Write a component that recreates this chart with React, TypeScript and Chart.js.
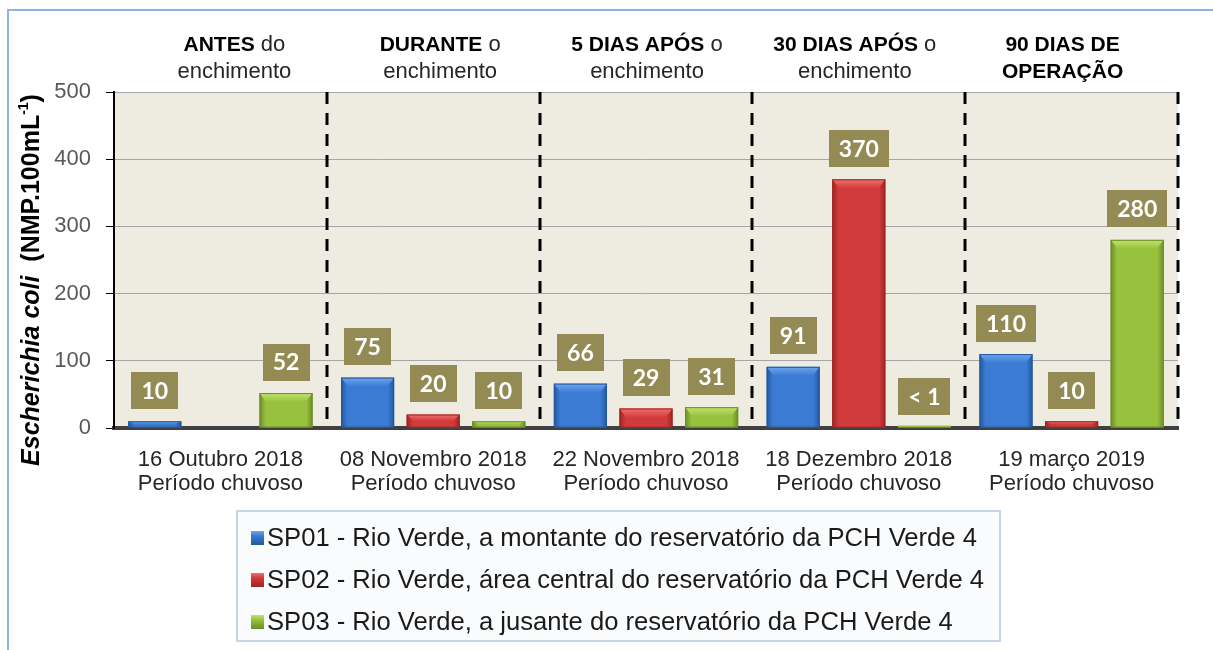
import { useEffect, useRef } from "react";
import { Chart, registerables } from "chart.js";

Chart.register(...registerables);

// ---------- data ----------
const categories: string[][] = [
  ["16 Outubro 2018", "Período chuvoso"],
  ["08 Novembro 2018", "Período chuvoso"],
  ["22 Novembro 2018", "Período chuvoso"],
  ["18 Dezembro 2018", "Período chuvoso"],
  ["19 março 2019", "Período chuvoso"],
];
const seriesNames = [
  "SP01 - Rio Verde, a montante do reservatório da PCH Verde 4",
  "SP02 - Rio Verde, área central do reservatório da PCH Verde 4",
  "SP03 - Rio Verde, a jusante do reservatório da PCH Verde 4",
];
const sp01: (number | null)[] = [10, 75, 66, 91, 110];
const sp02: (number | null)[] = [null, 20, 29, 370, 10];
const sp03: (number | null)[] = [52, 10, 31, 0.5, 280];
const yMin = 0;
const yMax = 500;
const yStep = 100;

const headerBold = ["ANTES", "DURANTE", "5 DIAS APÓS", "30 DIAS APÓS", "90 DIAS DE"];
const headerRest = [" do", " o", " o", " o", ""];
const headerLine2 = ["enchimento", "enchimento", "enchimento", "enchimento", "OPERAÇÃO"];
const headerLine2Bold = [false, false, false, false, true];

// ---------- style ----------
const FONT = '"Liberation Sans", Arial, sans-serif';
const LABEL_FONT = 'Lato, "Liberation Sans", sans-serif';
const headerDx = [14, 7, 1, -4, -9];
const seriesColors = [
  { main: "#3B7BD4", light: "#6FA6EE", dark: "#23579E" },
  { main: "#D23B3B", light: "#F07070", dark: "#9E2424" },
  { main: "#98C23E", light: "#C2E36A", dark: "#6A8C26" },
];

const fmt = (v: number) => (v < 1 ? "< 1" : String(v));

const bgPlugin = {
  id: "bgPlugin",
  beforeDraw(chart: any) {
    const { ctx, chartArea: a } = chart;
    ctx.save();
    ctx.fillStyle = "#FFFFFF";
    ctx.fillRect(0, 0, chart.width, chart.height);
    ctx.strokeStyle = "#8DB3E2";
    ctx.lineWidth = 2;
    ctx.beginPath();
    ctx.moveTo(8, chart.height);
    ctx.lineTo(8, 10);
    ctx.lineTo(chart.width, 10);
    ctx.stroke();
    ctx.fillStyle = "#EEECE1";
    ctx.fillRect(a.left, a.top, a.right - a.left, a.bottom - a.top);
    ctx.restore();
  },
};

const dashPlugin = {
  id: "dashPlugin",
  beforeDatasetsDraw(chart: any) {
    const { ctx, chartArea: a } = chart;
    const xs = chart.scales.x;
    const w = (a.right - a.left) / categories.length;
    ctx.save();
    ctx.strokeStyle = "#000";
    ctx.lineWidth = 3;
    ctx.setLineDash([12, 9]);
    for (let i = 0; i < categories.length; i++) {
      const x = Math.round(xs.getPixelForValue(i) + w / 2);
      ctx.beginPath();
      ctx.moveTo(x, a.top);
      ctx.lineTo(x, a.bottom);
      ctx.stroke();
    }
    ctx.restore();
  },
};

const barStylePlugin = {
  id: "barStylePlugin",
  afterDatasetsDraw(chart: any) {
    const { ctx } = chart;
    chart.data.datasets.forEach((ds: any, di: number) => {
      const meta = chart.getDatasetMeta(di);
      const c = seriesColors[di];
      meta.data.forEach((bar: any, j: number) => {
        const v = ds.data[j];
        if (v == null) return;
        const { x, y, base, width } = bar.getProps(["x", "y", "base", "width"], true);
        const l = x - width / 2;
        const h = base - y;
        if (h < 1) {
          ctx.save();
          ctx.fillStyle = c.main;
          ctx.fillRect(l, base - 2, width, 2);
          ctx.restore();
          return;
        }
        ctx.save();
        const g = ctx.createLinearGradient(l, 0, l + width, 0);
        g.addColorStop(0, c.dark);
        g.addColorStop(0.12, c.main);
        g.addColorStop(0.5, c.main);
        g.addColorStop(0.88, c.main);
        g.addColorStop(1, c.dark);
        ctx.fillStyle = g;
        ctx.fillRect(l, y, width, h);
        const bh = Math.min(9, h / 2);
        const bevel = ctx.createLinearGradient(0, y, 0, y + bh);
        bevel.addColorStop(0, c.light);
        bevel.addColorStop(1, c.main);
        ctx.fillStyle = bevel;
        ctx.beginPath();
        ctx.moveTo(l, y);
        ctx.lineTo(l + width, y);
        ctx.lineTo(l + width - 7, y + bh);
        ctx.lineTo(l + 7, y + bh);
        ctx.closePath();
        ctx.fill();
        ctx.strokeStyle = c.dark;
        ctx.lineWidth = 1;
        ctx.strokeRect(l + 0.5, y + 0.5, width - 1, h - 1);
        ctx.restore();
      });
    });
  },
};

const valueLabelPlugin = {
  id: "valueLabelPlugin",
  afterDatasetsDraw(chart: any) {
    const { ctx } = chart;
    ctx.save();
    ctx.font = `bold 23px ${LABEL_FONT}`;
    ctx.textAlign = "center";
    ctx.textBaseline = "middle";
    chart.data.datasets.forEach((ds: any, di: number) => {
      const meta = chart.getDatasetMeta(di);
      meta.data.forEach((bar: any, j: number) => {
        const v = ds.data[j];
        if (v == null) return;
        const { x, y } = bar.getProps(["x", "y"], true);
        const t = fmt(v);
        const tw = ctx.measureText(t).width;
        const bw = tw + 20;
        const bh = 37;
        const cy = y - 31;
        ctx.fillStyle = "#948A54";
        ctx.fillRect(Math.round(x - bw / 2), Math.round(cy - bh / 2), Math.round(bw), bh);
        ctx.fillStyle = "#FFFFFF";
        ctx.fillText(t, x, cy + 1);
      });
    });
    ctx.restore();
  },
};

const headerPlugin = {
  id: "headerPlugin",
  afterDraw(chart: any) {
    const { ctx } = chart;
    const xs = chart.scales.x;
    ctx.save();
    ctx.textBaseline = "middle";
    ctx.textAlign = "left";
    for (let i = 0; i < categories.length; i++) {
      const cx = xs.getPixelForValue(i) + headerDx[i];
      const boldF = `bold 21px ${FONT}`;
      const normF = `22px ${FONT}`;
      ctx.font = boldF;
      const bw = ctx.measureText(headerBold[i]).width;
      ctx.font = normF;
      const rw = ctx.measureText(headerRest[i]).width;
      const sx = cx - (bw + rw) / 2;
      ctx.fillStyle = "#000";
      ctx.font = boldF;
      ctx.fillText(headerBold[i], sx, 45);
      ctx.fillStyle = "#262626";
      ctx.font = normF;
      ctx.fillText(headerRest[i], sx + bw, 45);
      ctx.textAlign = "center";
      ctx.font = headerLine2Bold[i] ? boldF : normF;
      ctx.fillStyle = headerLine2Bold[i] ? "#000" : "#262626";
      ctx.fillText(headerLine2[i], cx, 72);
      ctx.textAlign = "left";
    }
    ctx.restore();
  },
};

const yTitlePlugin = {
  id: "yTitlePlugin",
  afterDraw(chart: any) {
    const { ctx } = chart;
    const parts = [
      { t: "Escherichia coli", f: `italic bold 25px ${FONT}`, dy: 0 },
      { t: "  (NMP.100mL", f: `bold 25px ${FONT}`, dy: 0 },
      { t: "-1", f: `bold 14px ${FONT}`, dy: -8 },
      { t: ")", f: `bold 25px ${FONT}`, dy: 0 },
    ];
    ctx.save();
    let total = 0;
    const widths = parts.map((p) => {
      ctx.font = p.f;
      const w = ctx.measureText(p.t).width;
      total += w;
      return w;
    });
    ctx.translate(32, 280);
    ctx.rotate(-Math.PI / 2);
    ctx.textBaseline = "middle";
    ctx.textAlign = "left";
    ctx.fillStyle = "#000";
    let x = -total / 2;
    parts.forEach((p, i) => {
      ctx.font = p.f;
      ctx.fillText(p.t, x, p.dy);
      x += widths[i];
    });
    ctx.restore();
  },
};

const legendPlugin = {
  id: "legendPlugin",
  afterDraw(chart: any) {
    const { ctx } = chart;
    ctx.save();
    ctx.fillStyle = "#FAFBFC";
    ctx.fillRect(237, 511, 763, 130);
    ctx.strokeStyle = "#C6D4E8";
    ctx.lineWidth = 2;
    ctx.strokeRect(237, 511, 763, 130);
    ctx.font = `25.6px ${FONT}`;
    ctx.textBaseline = "middle";
    ctx.textAlign = "left";
    const rows = [538, 580, 622];
    seriesNames.forEach((name, i) => {
      const c = seriesColors[i];
      const y = rows[i];
      const g = ctx.createLinearGradient(0, y - 7, 0, y + 7);
      g.addColorStop(0, c.light);
      g.addColorStop(0.35, c.main);
      g.addColorStop(1, c.dark);
      ctx.fillStyle = g;
      ctx.fillRect(251, y - 7, 13, 14);
      ctx.fillStyle = "#1A1A1A";
      ctx.fillText(name, 267, y + 1);
    });
    ctx.restore();
  },
};

export default function App() {
  const ref = useRef<HTMLCanvasElement | null>(null);
  useEffect(() => {
    if (!ref.current) return;
    const values = [sp01, sp02, sp03];
    const chart = new Chart(ref.current, {
      type: "bar",
      data: {
        labels: categories as any,
        datasets: seriesNames.map((name, i) => ({
          label: name,
          data: values[i] as any,
          backgroundColor: "rgba(0,0,0,0)",
          borderWidth: 0,
          categoryPercentage: 0.925,
          barPercentage: 0.81,
        })),
      },
      options: {
        responsive: false,
        animation: false,
        devicePixelRatio: 1,
        layout: { padding: { top: 92, right: 35, bottom: 152, left: 0 } },
        plugins: {
          legend: { display: false },
          tooltip: { enabled: false },
          title: { display: false },
        },
        scales: {
          x: {
            type: "category",
            grid: { display: false, drawTicks: false },
            border: { display: true, color: "#404040", width: 4 },
            ticks: {
              color: "#262626",
              font: { family: FONT, size: 22, lineHeight: 1.1 },
              padding: 20,
              maxRotation: 0,
              autoSkip: false,
            },
            afterFit: (s: any) => {
              s.height = 70;
            },
          },
          y: {
            min: yMin,
            max: yMax,
            grid: {
              color: "#A6A6A6",
              lineWidth: 1,
              drawTicks: true,
              tickLength: 8,
              tickColor: "#000",
            },
            border: { display: true, color: "#000", width: 2 },
            ticks: {
              stepSize: yStep,
              color: "#595959",
              font: { family: FONT, size: 22 },
              padding: 15,
            },
            afterFit: (s: any) => {
              s.width = 114;
            },
          },
        },
      },
      plugins: [bgPlugin, dashPlugin, barStylePlugin, valueLabelPlugin, headerPlugin, yTitlePlugin, legendPlugin],
    });
    return () => chart.destroy();
  }, []);
  return (
    <div style={{ position: "absolute", left: 0, top: 0, width: 1213, height: 650 }}>
      <canvas ref={ref} width={1213} height={650} style={{ display: "block" }} />
    </div>
  );
}
